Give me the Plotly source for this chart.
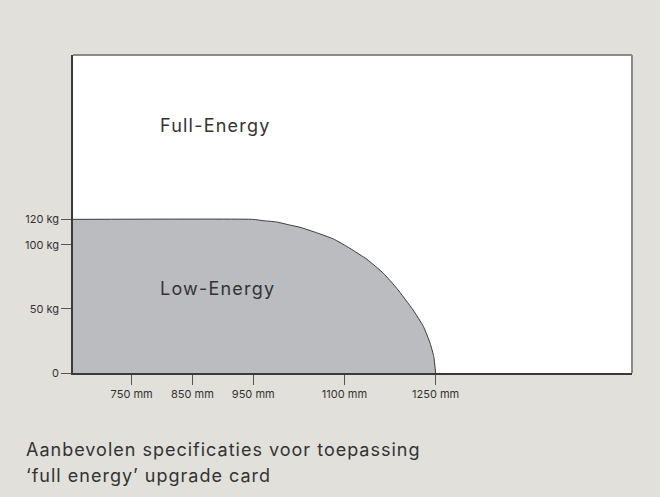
import plotly.graph_objects as go

# Low-energy boundary (mm, kg)
boundary_mm = [650, 950, 966, 988, 1010, 1027, 1054, 1082, 1109, 1137, 1164, 1186, 1213, 1230, 1241, 1247, 1250]
boundary_kg = [120, 120, 119.0, 118.0, 115.6, 113.8, 109.6, 104.7, 97.4, 88.8, 77.9, 66.2, 49.2, 36.2, 23.2, 12.7, 0]

x_ticks = [750, 850, 950, 1100, 1250]
x_tick_labels = ["750 mm", "850 mm", "950 mm", "1100 mm", "1250 mm"]
y_ticks = [0, 50, 100, 120]
y_tick_labels = ["0", "50 kg", "100 kg", "120 kg"]

zone_labels = ["Full-Energy", "Low-Energy"]
zone_label_x = [793, 793]
zone_label_y = [193, 66.4]

caption_lines = ["Aanbevolen specificaties voor toepassing", "\u2018full energy\u2019 upgrade card"]

FONT = "Inter"
TXT = "#333333"
BG = "#e1e0da"


def spaced(s, px):
    return '<span style="letter-spacing:%spx">%s</span>' % (px, s)


fig = go.Figure()
fig.add_trace(go.Scatter(
    x=boundary_mm, y=boundary_kg, mode="lines",
    line=dict(color="#3a3a3a", width=1, shape="spline", smoothing=0.4),
    fill="tozeroy", fillcolor="#bbbcc0",
    hoverinfo="skip", showlegend=False,
))

for t, xx, yy in zip(zone_labels, zone_label_x, zone_label_y):
    fig.add_annotation(x=xx, y=yy, xref="x", yref="y", text=spaced(t, 1.2), showarrow=False,
                       xanchor="left", yanchor="middle",
                       font=dict(family=FONT, size=18, color=TXT))

for i, line in enumerate(caption_lines):
    fig.add_annotation(x=-0.088, y=-0.242 - i * 0.079, xref="paper", yref="paper",
                       text=spaced(line, 1), showarrow=False, xanchor="left", yanchor="middle",
                       font=dict(family=FONT, size=18, color=TXT))

# top and right frame lines (lighter)
fig.add_shape(type="line", xref="paper", yref="paper", x0=0, x1=1, y0=1, y1=1,
              line=dict(color="#8a8a8a", width=2))
fig.add_shape(type="line", xref="paper", yref="paper", x0=1, x1=1, y0=0, y1=1,
              line=dict(color="#8a8a8a", width=2))

fig.update_layout(
    width=660, height=497,
    margin=dict(l=73, r=28, t=55, b=124),
    paper_bgcolor=BG, plot_bgcolor="white",
    font=dict(family=FONT, size=11, color=TXT),
    xaxis=dict(range=[653.5, 1573], tickvals=x_ticks, ticktext=x_tick_labels,
               showgrid=False, zeroline=False, showline=True, linecolor="#3a3a3a",
               linewidth=1.5, ticks="outside", ticklen=10, tickcolor="#555555",
               tickfont=dict(family=FONT, size=11, color=TXT)),
    yaxis=dict(range=[0, 248.4], tickvals=y_ticks, ticktext=y_tick_labels,
               showgrid=False, zeroline=False, showline=True, linecolor="#3a3a3a",
               linewidth=1.5, ticks="outside", ticklen=10, tickcolor="#555555",
               tickfont=dict(family=FONT, size=11, color=TXT)),
)

fig.write_html("out.html", config={"displayModeBar": False},
               post_script="document.body.style.margin='0';document.body.style.background='%s';" % BG)
